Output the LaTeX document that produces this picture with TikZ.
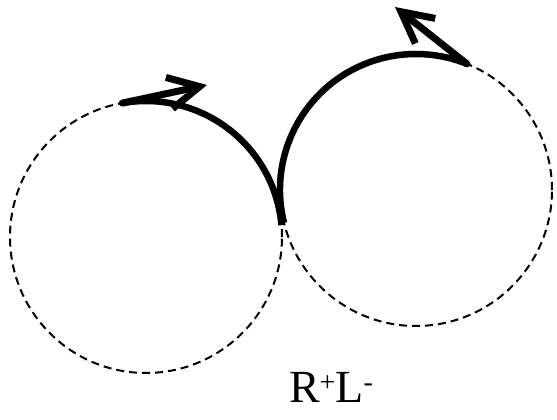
\documentclass[tikz,border=0pt]{standalone}
\usepackage{fontspec}
\setmainfont{Liberation Serif}
\usetikzlibrary{arrows.meta}
\newcommand{\chargeup}[1]{\raisebox{0.25em}{\fontsize{28}{28}\selectfont #1}}
\begin{document}
\begin{tikzpicture}[
  x=1pt,y=1pt,
  every path/.style={line cap=round,line join=round},
  ring/.style={circle,draw,line cap=butt,dash pattern=on 8pt off 5pt,
    line width=2pt,minimum size=272pt,inner sep=0pt,outer sep=0pt},
  strand/.style={line width=6.5pt,line cap=butt},
  flip/.style={line width=7pt,-{Straight Barb[length=31pt,width=32pt]}}
]
  \useasboundingbox (0,0) rectangle (557,420);
  \node[ring] (left) at (146,183) {};
  \node[ring] (right) at (416,230) {};
  \coordinate (left-tip) at (207,335);
  \coordinate (right-tip) at (395,413);

  \draw[strand] (left.100) arc[start angle=100,end angle=5,radius=136pt];
  \draw[strand] (right.194) arc[start angle=194,end angle=68,radius=136pt];
  \draw[flip] (left.100) -- (left-tip);
  \draw[flip] (right.68) -- (right-tip);

  \node[anchor=base] (label) at (331,17)
    {\fontsize{46}{54}\selectfont R\chargeup{+}L\chargeup{-}};
\end{tikzpicture}
\end{document}
